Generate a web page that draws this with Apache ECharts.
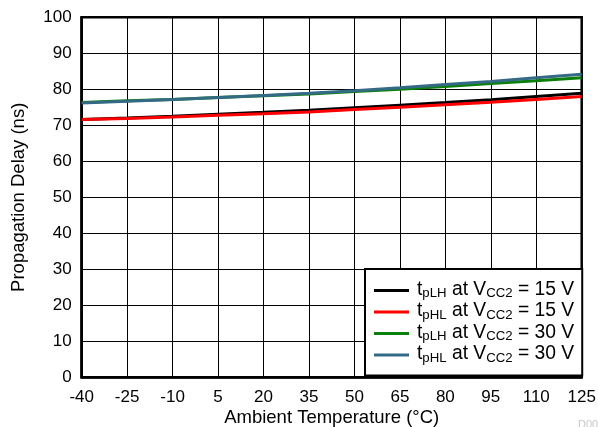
<!DOCTYPE html>
<html><head><meta charset="utf-8">
<script src="https://cdn.jsdelivr.net/npm/echarts@6/dist/echarts.min.js"></script>
<style>html,body{margin:0;padding:0;background:#fff}#c{width:598px;height:427px}</style>
</head><body><div id="c"></div>
<script>
const temps = ['-40','-25','-10','5','20','35','50','65','80','95','110','125'];
const tpLH15 = [71.6,72.0,72.5,73.1,73.6,74.2,74.9,75.6,76.3,77.1,78.0,78.9];
const tpHL15 = [71.6,71.9,72.3,72.8,73.2,73.7,74.4,75.0,75.7,76.4,77.2,78.0];
const tpLH30 = [76.3,76.8,77.2,77.7,78.2,78.7,79.4,80.0,80.8,81.6,82.4,83.2];
const tpHL30 = [76.2,76.7,77.2,77.7,78.3,78.9,79.6,80.4,81.3,82.2,83.2,84.2];
const seriesNames = ['tpLH15','tpHL15','tpLH30','tpHL30'];
const legendParts = {
  tpLH15: ['pLH','15'], tpHL15: ['pHL','15'], tpLH30: ['pLH','30'], tpHL30: ['pHL','30']
};
const colors = ['#000000','#ff0000','#0a800a','#356a87'];
const FONT = 'Liberation Sans, Arial, sans-serif';
const chart = echarts.init(document.getElementById('c'), null, {renderer:'canvas'});
const mk = (name, data, color) => ({
  name, type:'line', data, symbol:'none', showSymbol:false,
  lineStyle:{color, width:3}, itemStyle:{color}, animation:false
});
chart.setOption({
  animation:false,
  textStyle:{fontFamily:FONT},
  grid:{left:81.7, right:16.3, top:17.3, bottom:49.7, outerBoundsMode:'none', containLabel:false,
        show:true, borderColor:'#000', borderWidth:2.5, backgroundColor:'transparent'},
  xAxis:{
    type:'category', data:temps, boundaryGap:false,
    name:'Ambient Temperature (°C)', nameLocation:'middle', nameGap:31.5, nameMoveOverlap:false,
    nameTextStyle:{fontSize:18.5, color:'#000', fontFamily:FONT},
    axisLine:{lineStyle:{color:'#000', width:2.5}},
    axisTick:{show:false},
    axisLabel:{fontSize:17, color:'#000', margin:12, fontFamily:FONT},
    splitLine:{show:true, lineStyle:{color:'#000', width:1}}
  },
  yAxis:{
    type:'value', min:0, max:100, interval:10,
    name:'Propagation Delay (ns)', nameLocation:'middle', nameGap:53, nameMoveOverlap:false,
    nameTextStyle:{fontSize:18.5, color:'#000', fontFamily:FONT},
    axisLine:{show:true, lineStyle:{color:'#000', width:2.5}},
    axisTick:{show:false},
    axisLabel:{fontSize:17, color:'#000', margin:10, fontFamily:FONT},
    splitLine:{show:true, lineStyle:{color:'#000', width:1}}
  },
  legend:{
    orient:'vertical', left:365, top:269,
    padding:[11,8,11,9], itemGap:1.5,
    backgroundColor:'#fff', borderColor:'#000', borderWidth:2,
    icon:'rect', itemWidth:35, itemHeight:3,
    data: seriesNames,
    formatter: n => '{t|t}{s|'+legendParts[n][0]+'}{t| at V}{s|CC2}{t| = '+legendParts[n][1]+' V}',
    textStyle:{
      fontFamily:FONT, color:'#000', padding:[0,0,0,3],
      rich:{
        t:{fontSize:19.3, fontFamily:FONT, color:'#000', lineHeight:21, verticalAlign:'top'},
        s:{fontSize:13.2, fontFamily:FONT, color:'#000', lineHeight:21, padding:[7,0,0,0], verticalAlign:'top'}
      }
    }
  },
  graphic:[{type:'text', left:578, top:419, style:{text:'D001', fontSize:11, fill:'#c8c8c8', fontFamily:FONT}}],
  series:[
    mk('tpLH15', tpLH15, colors[0]),
    mk('tpHL15', tpHL15, colors[1]),
    mk('tpLH30', tpLH30, colors[2]),
    mk('tpHL30', tpHL30, colors[3])
  ]
});
</script></body></html>
